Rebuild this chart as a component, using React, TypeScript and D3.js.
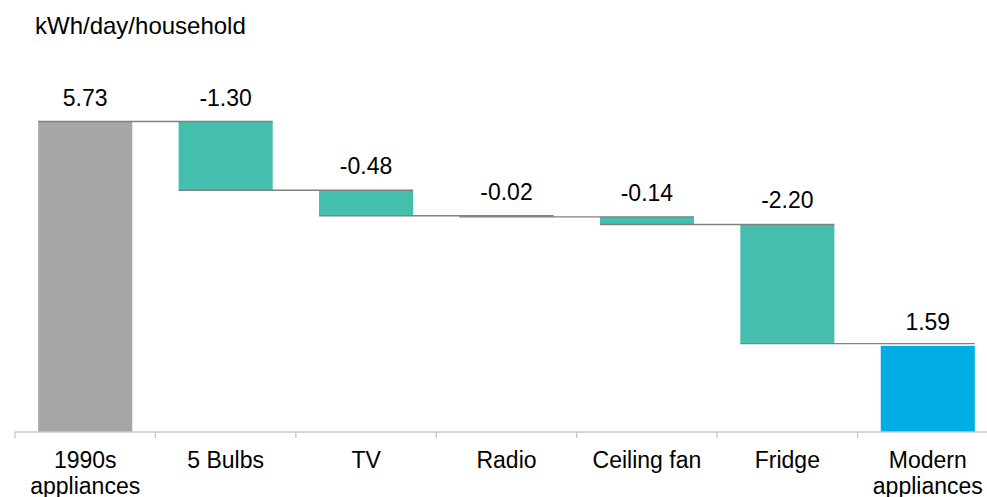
import React from "react";
import * as d3 from "d3";

const categories = ["1990s\nappliances", "5 Bulbs", "TV", "Radio", "Ceiling fan", "Fridge", "Modern\nappliances"];
// bar heights as drawn in the picture (labels show the rounded published figures)
const values = [5.73, -1.27, -0.47, -0.02, -0.14, -2.20, 1.59];
const kinds = ["total", "delta", "delta", "delta", "delta", "delta", "total"];
const valueLabels = ["5.73", "-1.30", "-0.48", "-0.02", "-0.14", "-2.20", "1.59"];
const unitLabel = "kWh/day/household";

const W = 987;
const H = 497;
const FONT = "'Liberation Sans', Arial, sans-serif";
const colors: Record<string, string> = { start: "#a6a6a6", delta: "#45bfad", end: "#00aee3" };

export default function App() {
  const x = d3.scaleBand<string>().domain(categories).range([15, 998]).paddingInner(0.33).paddingOuter(0.165);
  const y = d3.scaleLinear().domain([0, 5.73]).range([432, 121.5]);

  let cum = 0;
  const segs = values.map((v, i) => {
    let lo: number, hi: number, end: number;
    if (kinds[i] === "total") {
      lo = 0; hi = v; end = v;
    } else {
      const start = cum;
      end = cum + v;
      lo = Math.min(start, end); hi = Math.max(start, end);
    }
    cum = end;
    const fill = i === 0 ? colors.start : kinds[i] === "total" ? colors.end : colors.delta;
    return { cat: categories[i], lo, hi, end, fill, label: valueLabels[i] };
  });

  const step = x.step();
  const x0 = x.range()[0];
  const ticks = d3.range(categories.length + 1).map((i) => x0 + i * step);

  return (
    <svg width={W} height={H} style={{ position: "absolute", left: 0, top: 0, background: "#fff" }} fontFamily={FONT}>
      <text x={35} y={34} fontSize={24} fill="#000">{unitLabel}</text>
      {segs.map((s, i) => (
        <rect key={"b" + i} x={x(s.cat)!} y={y(s.hi)} width={x.bandwidth()} height={Math.max(1, y(s.lo) - y(s.hi))} fill={s.fill} />
      ))}
      {segs.slice(0, -1).map((s, i) => (
        <line key={"c" + i} x1={x(s.cat)!} x2={x(categories[i + 1])! + x.bandwidth()} y1={y(s.end)} y2={y(s.end)} stroke="#808080" strokeWidth={1.4} />
      ))}
      {segs.map((s, i) => (
        <text key={"v" + i} x={x(s.cat)! + x.bandwidth() / 2} y={y(s.hi) - 16} textAnchor="middle" fontSize={23} fill="#000">{s.label}</text>
      ))}
      <line x1={x0} x2={W + 20} y1={432} y2={432} stroke="#c6c6c6" strokeWidth={1.3} />
      {ticks.map((t, i) => (
        <line key={"t" + i} x1={t} x2={t} y1={432} y2={438} stroke="#c6c6c6" strokeWidth={1.3} />
      ))}
      {categories.map((c, i) => (
        <text key={"l" + i} x={x(c)! + x.bandwidth() / 2} y={468} textAnchor="middle" fontSize={23} fill="#000">
          {c.split("\n").map((ln, j) => (
            <tspan key={j} x={x(c)! + x.bandwidth() / 2} dy={j === 0 ? 0 : 25.5}>{ln}</tspan>
          ))}
        </text>
      ))}
    </svg>
  );
}
